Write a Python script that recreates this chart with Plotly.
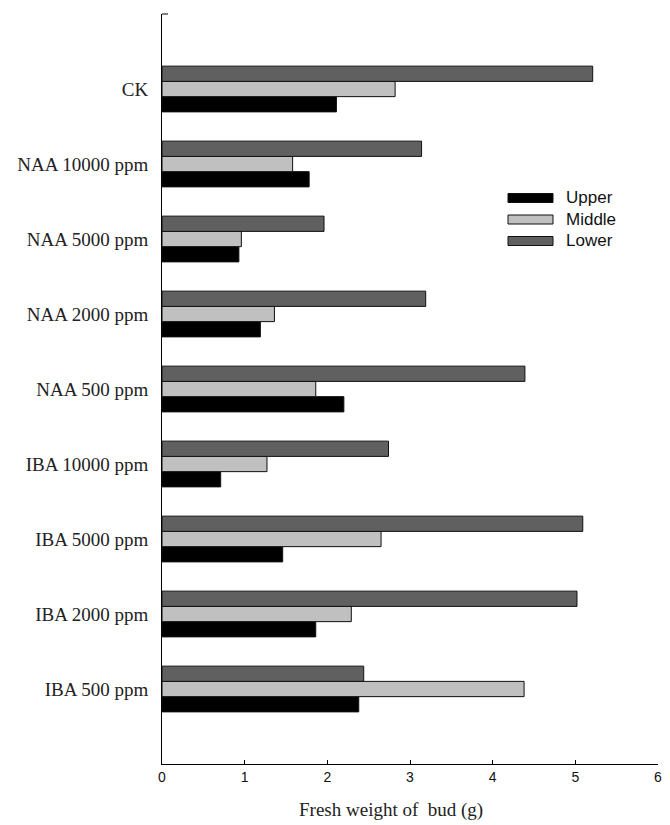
import plotly.graph_objects as go

categories = ["IBA 500 ppm", "IBA 2000 ppm", "IBA 5000 ppm", "IBA 10000 ppm",
              "NAA 500 ppm", "NAA 2000 ppm", "NAA 5000 ppm", "NAA 10000 ppm", "CK"]
upper = [2.38, 1.86, 1.46, 0.71, 2.20, 1.19, 0.93, 1.78, 2.11]
middle = [4.38, 2.29, 2.65, 1.27, 1.86, 1.36, 0.96, 1.58, 2.82]
lower = [2.44, 5.02, 5.09, 2.74, 4.39, 3.19, 1.96, 3.14, 5.21]
x_ticks = [0, 1, 2, 3, 4, 5, 6]
series_names = ["Upper", "Middle", "Lower"]
series_colors = ["#000000", "#c0c0c0", "#606060"]

W, H = 662, 817
ML, MR, MT, MB = 154, 12, 6, 61
PW, PH = W - ML - MR, H - MT - MB

def px_x(p):  # page x -> paper
    return (p - 8 - ML) / PW

def px_y(p):  # page y -> paper
    return 1 - (p - 8 - MT) / PH

fig = go.Figure()
for name, vals, col in zip(series_names, [upper, middle, lower], series_colors):
    fig.add_trace(go.Bar(
        y=categories, x=vals, name=name, orientation="h",
        marker=dict(color=col, line=dict(color="#111111", width=1)),
        showlegend=False,
    ))

shapes = [dict(type="line", xref="paper", yref="paper", x0=0, x1=6 / PW, y0=1, y1=1,
               line=dict(color="black", width=1))]
annotations = [dict(text="Fresh weight of  bud (g)", xref="paper", yref="paper",
                    x=px_x(391), y=px_y(810), xanchor="center", yanchor="middle",
                    showarrow=False,
                    font=dict(family="Times New Roman, Liberation Serif, serif", size=19, color="#222222"))]

row_y = [198, 219.5, 241]
for name, col, ry in zip(series_names, series_colors, row_y):
    shapes.append(dict(type="rect", xref="paper", yref="paper",
                       x0=px_x(508), x1=px_x(553), y0=px_y(ry - 4.5), y1=px_y(ry + 4.5),
                       fillcolor=col, line=dict(color="#111111", width=1)))
    annotations.append(dict(text=name, xref="paper", yref="paper", x=px_x(564), y=px_y(ry),
                            xanchor="left", yanchor="middle", showarrow=False,
                            font=dict(family="Arial, Liberation Sans, sans-serif", size=17, color="#111111")))

fig.update_layout(
    width=W, height=H,
    margin=dict(l=ML, r=MR, t=MT, b=MB),
    paper_bgcolor="white", plot_bgcolor="white",
    barmode="group", bargap=0.39, bargroupgap=0,
    xaxis=dict(range=[0, 6], tickvals=x_ticks, ticks="inside", ticklen=4, tickwidth=1,
               tickcolor="black", showline=True, linecolor="black", linewidth=1,
               showgrid=False, zeroline=False, ticklabelstandoff=0, ticklabeloverflow="allow",
               tickfont=dict(family="Arial, Liberation Sans, sans-serif", size=14, color="#111111")),
    yaxis=dict(type="category", categoryorder="array", categoryarray=categories,
               range=[-1, 9], ticks="", showline=True, linecolor="black", linewidth=1,
               showgrid=False, zeroline=False, ticklabelstandoff=9,
               tickfont=dict(family="Times New Roman, Liberation Serif, serif", size=19, color="#222222")),
    annotations=annotations,
    shapes=shapes,
)

fig.write_html("out.html")
